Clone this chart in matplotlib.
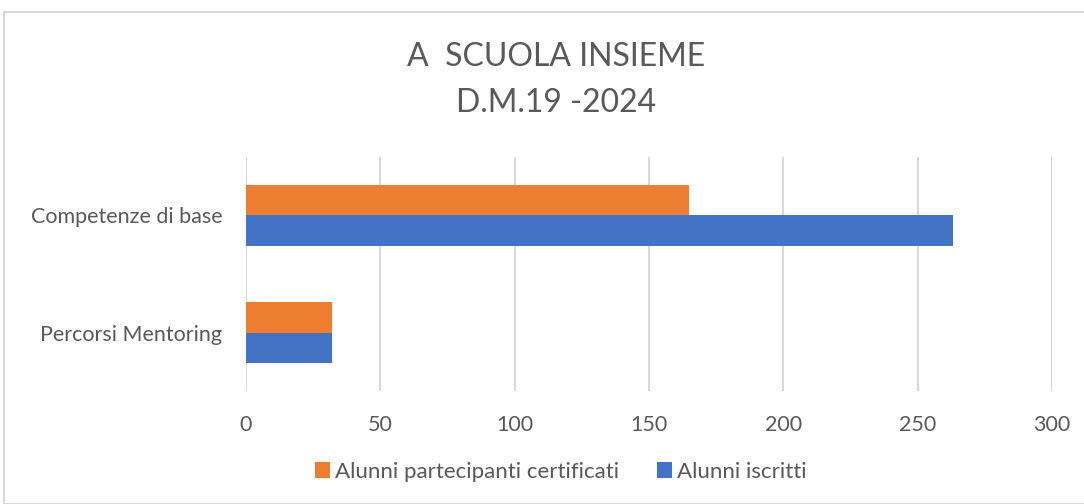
import matplotlib.pyplot as plt
import numpy as np
from matplotlib.patches import Rectangle

# Data
categories = ['Percorsi Mentoring', 'Competenze di base']
certificati = [32, 165]
iscritti = [32, 263]
series_names = ['Alunni partecipanti certificati', 'Alunni iscritti']
x_ticks = [0, 50, 100, 150, 200, 250, 300]

orange = '#ED7D31'
blue = '#4472C4'
text_gray = '#595959'
grid_gray = '#D9D9D9'

plt.rcParams['font.family'] = ['Lato', 'DejaVu Sans']

fig = plt.figure(figsize=(10.84, 5.04), dpi=100)
ax = fig.add_axes([0.2269, 0.2242, 0.7436, 0.4643])

# Chart frame
fig.patches.append(Rectangle((4 / 1084, 0), 1.0, 1 - 12 / 504, transform=fig.transFigure,
                             fill=False, edgecolor='#D9D9D9', linewidth=1.5))

y = np.arange(len(categories))
h = 0.26
ax.barh(y + h / 2, certificati, height=h, color=orange, label=series_names[0], zorder=3)
ax.barh(y - h / 2, iscritti, height=h, color=blue, label=series_names[1], zorder=3)

ax.set_xlim(0, 300)
ax.set_ylim(-0.5, 1.5)
ax.set_xticks(x_ticks)
ax.set_yticks(y)
ax.set_yticklabels(categories)
ax.tick_params(axis='both', length=0, labelsize=15.5, colors=text_gray)
ax.tick_params(axis='x', pad=17)
ax.tick_params(axis='y', pad=17)
ax.grid(axis='x', color=grid_gray, linewidth=1.5, zorder=0)
for s in ax.spines.values():
    s.set_visible(False)

fig.text(0.513, 0.887, 'A  SCUOLA INSIEME', ha='center', va='center', fontsize=23, color=text_gray)
fig.text(0.513, 0.795, 'D.M.19 -2024', ha='center', va='center', fontsize=23, color=text_gray)

fig.legend(loc='center', bbox_to_anchor=(0.517, 0.064), ncol=2, frameon=False,
           fontsize=16, handlelength=0.7, handleheight=0.7, handletextpad=0.2,
           columnspacing=1.7, labelcolor=text_gray)

fig.savefig('out.png', dpi=100)
